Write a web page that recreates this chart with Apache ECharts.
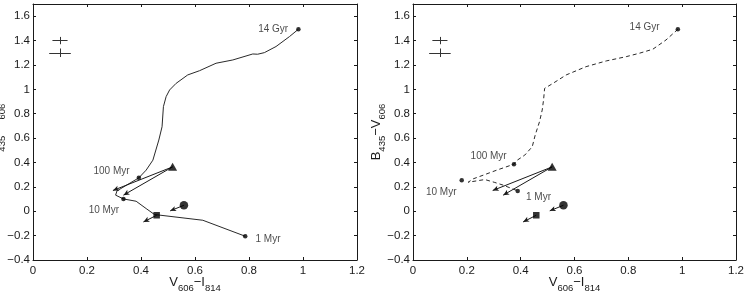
<!DOCTYPE html>
<html><head><meta charset="utf-8">
<script src="https://cdn.jsdelivr.net/npm/echarts/dist/echarts.min.js"></script>
<style>html,body{margin:0;padding:0;background:#fff}#c{width:746px;height:292px}</style>
</head><body><div id="c"></div>
<script>
// ---- data ----
const trackLeftX = [0.983,0.950,0.900,0.857,0.832,0.814,0.740,0.678,0.617,0.573,0.530,0.506,0.493,0.483,0.478,0.466,0.444,0.419,0.392,0.311,0.306,0.335,0.382,0.419,0.450,0.629,0.786];
const trackLeftY = [1.493,1.433,1.351,1.301,1.288,1.290,1.241,1.214,1.153,1.118,1.049,0.995,0.940,0.858,0.693,0.584,0.419,0.337,0.274,0.167,0.132,0.101,0.082,0.022,-0.027,-0.074,-0.205];
const trackRightX = [0.984,0.940,0.891,0.841,0.792,0.718,0.643,0.569,0.520,0.489,0.485,0.480,0.470,0.454,0.443,0.415,0.384,0.375,0.311,0.261,0.224,0.205,0.267,0.304,0.335,0.389];
const trackRightY = [1.493,1.405,1.329,1.296,1.268,1.233,1.186,1.118,1.049,1.008,0.912,0.830,0.734,0.625,0.529,0.460,0.414,0.386,0.337,0.296,0.266,0.238,0.260,0.236,0.214,0.167];
const ageNames = ['14 Gyr','100 Myr','10 Myr','1 Myr'];
const ageLeftX = [0.983,0.392,0.335,0.786];
const ageLeftY = [1.493,0.274,0.101,-0.205];
const ageRightX = [0.984,0.375,0.181,0.389];
const ageRightY = [1.493,0.386,0.255,0.167];
const triangleXY = [0.517,0.364];
const circleXY = [0.559,0.049];
const squareXY = [0.458,-0.033];
const arrowFromX = [0.517,0.517,0.559,0.458];
const arrowFromY = [0.364,0.364,0.049,-0.033];
const arrowToX = [0.296,0.335,0.508,0.409];
const arrowToY = [0.170,0.132,0.003,-0.088];
const errX = [0.1,0.1];
const errY = [1.4,1.3];
const errDX = [0.028,0.04];
const errDY = [0.03,0.035];
const xTickVals = [0,0.2,0.4,0.6,0.8,1,1.2];
const yTickVals = [-0.4,-0.2,0,0.2,0.4,0.6,0.8,1,1.2,1.4,1.6];

// ---- styling ----
const FONT = 'Liberation Sans, Arial, Helvetica, sans-serif';
const INK = '#1a1a1a';
const labelLayoutLeft = [
  {position:'left', distance:8, offset:[0,0]},
  {position:'left', distance:7, offset:[0,-7]},
  {position:'left', distance:2, offset:[0,11]},
  {position:'right', distance:8, offset:[0,3]}
];
const labelLayoutRight = [
  {position:'left', distance:16, offset:[0,-2]},
  {position:'left', distance:5, offset:[0,-8]},
  {position:'left', distance:3, offset:[0,12]},
  {position:'right', distance:6, offset:[0,6]}
];

function fmt(v){
  if (v > 1.65) return '';
  return String(+v.toFixed(1)).replace('-', '\u2212');
}
const rich = {
  m:{fontSize:13, color:INK, fontFamily:FONT},
  s:{fontSize:9.5, color:INK, fontFamily:FONT, padding:[12,0,0,0]}
};
function axes(gi){
  const common = {
    type:'value', gridIndex:gi,
    axisLine:{show:true, onZero:false, lineStyle:{color:INK, width:1}},
    axisTick:{show:true, inside:true, length:3, lineStyle:{color:INK}},
    splitLine:{show:false}
  };
  const xs = [
    Object.assign({}, common, {position:'bottom', min:0, max:1.2, interval:0.2,
      axisLabel:{margin:5, fontSize:11.5, color:INK, fontFamily:FONT, formatter:fmt},
      name:'{m|V}{s|606}{m|\u2212I}{s|814}', nameLocation:'middle', nameGap:11, nameMoveOverlap:false,
      nameTextStyle:{rich:rich}}),
    Object.assign({}, common, {position:'top', min:0, max:1.2, interval:0.2, axisLabel:{show:false}})
  ];
  const ys = [
    Object.assign({}, common, {position:'left', min:-0.4, max:1.7, interval:0.2,
      axisLabel:{margin:3, fontSize:11.5, color:INK, fontFamily:FONT, formatter:fmt},
      name:'{m|B}{s|435}{m|\u2212V}{s|606}', nameLocation:'middle', nameGap:26, nameMoveOverlap:false,
      nameTextStyle:{rich:rich}}),
    Object.assign({}, common, {position:'right', min:-0.4, max:1.7, interval:0.2, axisLabel:{show:false}})
  ];
  return {xs, ys};
}
const A0 = axes(0), A1 = axes(1);

function zip(xs, ys){ return xs.map((x,i)=>[x, ys[i]]); }
function arrowLines(){
  return arrowFromX.map((x,i)=>[{coord:[x, arrowFromY[i]]},{coord:[arrowToX[i], arrowToY[i]]}]);
}
function errLines(){
  const out = [];
  errX.forEach((x,i)=>{
    out.push([{coord:[x-errDX[i], errY[i]]},{coord:[x+errDX[i], errY[i]]}]);
    out.push([{coord:[x, errY[i]-errDY[i]]},{coord:[x, errY[i]+errDY[i]]}]);
  });
  return out;
}
function panelSeries(k, tx, ty, ax, ay, layout, dashed){
  const xi = k*2, yi = k*2;
  const base = {xAxisIndex:xi, yAxisIndex:yi, animation:false, silent:true};
  return [
    Object.assign({}, base, {type:'line', data:zip(tx,ty), showSymbol:false, symbol:'none',
      lineStyle:{color:'#2a2a2a', width:1, type: dashed ? [4,3] : 'solid'}, z:2}),
    Object.assign({}, base, {type:'scatter', symbol:'circle', symbolSize:4.5,
      itemStyle:{color:'#000'}, z:5,
      data: ax.map((x,i)=>({value:[x, ay[i]], name:ageNames[i],
        label:Object.assign({show:true, formatter:'{b}', fontSize:10, color:INK, fontFamily:FONT}, layout[i])}))}),
    Object.assign({}, base, {type:'scatter', symbol:'triangle', symbolSize:[9,8], itemStyle:{color:'#000'}, z:6,
      data:[triangleXY],
      markLine:{silent:true, animation:false, symbol:['none','arrow'], symbolSize:[4,6], precision:4,
        label:{show:false}, lineStyle:{color:'#1a1a1a', width:1, type:'solid'},
        emphasis:{disabled:true}, data:arrowLines()}}),
    Object.assign({}, base, {type:'scatter', symbol:'circle', symbolSize:8.5, itemStyle:{color:'#000'}, z:6, data:[circleXY]}),
    Object.assign({}, base, {type:'scatter', symbol:'rect', symbolSize:6.5, itemStyle:{color:'#000'}, z:6, data:[squareXY],
      markLine:{silent:true, animation:false, symbol:['none','none'], label:{show:false},
        lineStyle:{color:'#333', width:1, type:'solid'}, emphasis:{disabled:true}, data:errLines()}})
  ];
}

const option = {
  backgroundColor:'#fff',
  animation:false,
  grid:[
    {left:33, right:389, top:4, bottom:32, containLabel:false, outerBoundsMode:'none'},
    {left:413, right:10, top:4, bottom:32, containLabel:false, outerBoundsMode:'none'}
  ],
  xAxis:[...A0.xs, ...A1.xs.map(a=>Object.assign(a,{gridIndex:1}))],
  yAxis:[...A0.ys, ...A1.ys.map(a=>Object.assign(a,{gridIndex:1}))],
  series:[
    ...panelSeries(0, trackLeftX, trackLeftY, ageLeftX, ageLeftY, labelLayoutLeft, false),
    ...panelSeries(1, trackRightX, trackRightY, ageRightX, ageRightY, labelLayoutRight, true)
  ]
};
const chart = echarts.init(document.getElementById('c'), null, {renderer:'canvas'});
chart.setOption(option);
</script>
</body></html>
